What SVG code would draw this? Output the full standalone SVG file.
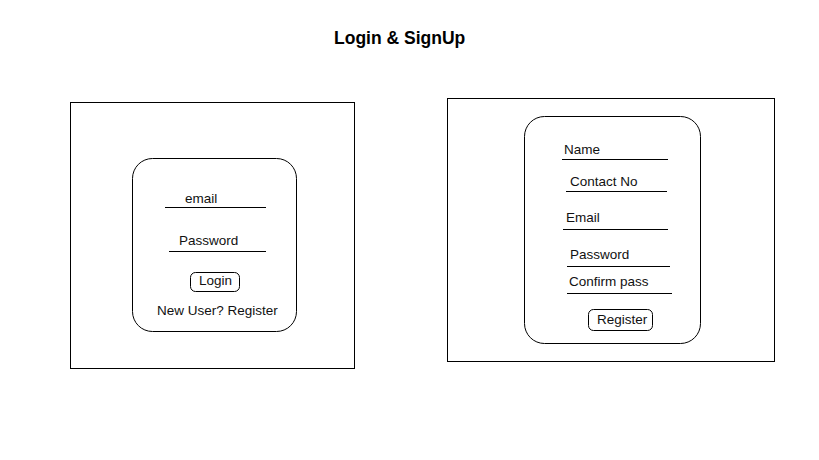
<svg xmlns="http://www.w3.org/2000/svg" width="819" height="460" viewBox="0 0 819 460">
<style>
.box{fill:#fff;stroke:#000;stroke-width:1}
.ln{stroke:#000;stroke-width:1.2}
.t{font-family:"Liberation Sans",Arial,sans-serif;font-size:13.5px;fill:#111}
.title{font-family:"Liberation Sans",Arial,sans-serif;font-size:17.5px;font-weight:bold;fill:#000}
</style>
<rect width="819" height="460" fill="#fff"/>
<text class="title" x="334" y="44">Login &amp; SignUp</text>
<g id="login-screen">
<rect class="box" x="70.5" y="102.5" width="284" height="266"/>
<rect class="box" x="132.5" y="158.5" width="164" height="173" rx="20" ry="20"/>
<text class="t" x="185" y="203">email</text>
<line class="ln" x1="165" y1="207.5" x2="266" y2="207.5"/>
<text class="t" x="179" y="245">Password</text>
<line class="ln" x1="169" y1="251.5" x2="266" y2="251.5"/>
<g id="login-button">
<rect class="box" x="190.5" y="272.5" width="49" height="19" rx="5" ry="5"/>
<text class="t" x="199" y="285">Login</text>
</g>
<text class="t" x="157" y="315">New User? Register</text>
</g>
<g id="signup-screen">
<rect class="box" x="447.5" y="98.5" width="327" height="263"/>
<rect class="box" x="524.5" y="116.5" width="176" height="227" rx="20" ry="20"/>
<text class="t" x="564" y="154">Name</text>
<line class="ln" x1="562" y1="159.5" x2="668" y2="159.5"/>
<text class="t" x="570" y="186">Contact No</text>
<line class="ln" x1="566" y1="191.5" x2="667" y2="191.5"/>
<text class="t" x="566" y="222">Email</text>
<line class="ln" x1="563" y1="229.5" x2="668" y2="229.5"/>
<text class="t" x="570" y="259">Password</text>
<line class="ln" x1="567" y1="266.5" x2="670" y2="266.5"/>
<text class="t" x="569" y="286">Confirm pass</text>
<line class="ln" x1="567" y1="293.5" x2="672" y2="293.5"/>
<g id="register-button">
<rect class="box" x="588.5" y="309.5" width="64" height="21" rx="5" ry="5"/>
<text class="t" x="597" y="324">Register</text>
</g>
</g>
<g id="connectors"></g>
</svg>
